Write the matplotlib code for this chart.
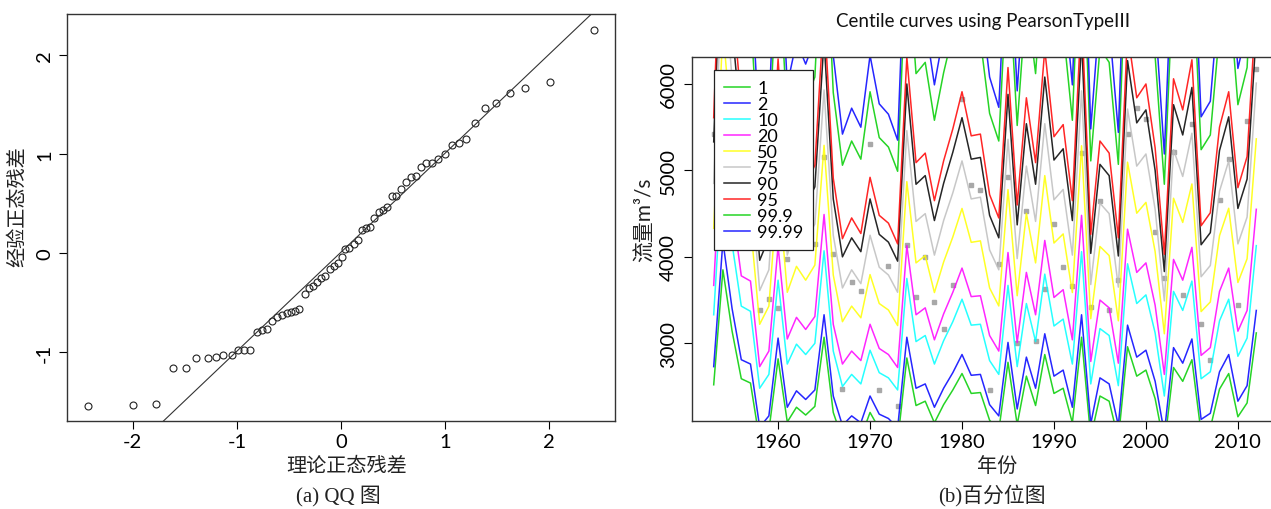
import numpy as np
import matplotlib
matplotlib.use("Agg")
import matplotlib.pyplot as plt

plt.rcParams['font.family'] = ['Lato', 'Noto Sans CJK SC', 'DejaVu Sans']
plt.rcParams['axes.unicode_minus'] = False
serif_cjk = ['Liberation Serif', 'Noto Sans CJK SC']

#%% QQ plot data
qq_x = [-2.43, -2.00, -1.78, -1.61, -1.49, -1.39, -1.28, -1.20, -1.13, -1.05,
        -0.99, -0.93, -0.87, -0.81, -0.76, -0.71, -0.66, -0.61, -0.57, -0.52,
        -0.48, -0.44, -0.40, -0.35, -0.31, -0.27, -0.23, -0.19, -0.15, -0.11,
        -0.07, -0.03, 0.01, 0.04, 0.08, 0.12, 0.16, 0.20, 0.24, 0.28,
        0.32, 0.36, 0.40, 0.44, 0.49, 0.53, 0.58, 0.62, 0.67, 0.72,
        0.77, 0.82, 0.87, 0.93, 1.00, 1.07, 1.13, 1.20, 1.29, 1.38,
        1.49, 1.62, 1.77, 2.01, 2.43]
qq_y = [-1.54, -1.535, -1.525, -1.16, -1.155, -1.06, -1.06, -1.045, -1.03, -1.025,
        -0.98, -0.975, -0.98, -0.795, -0.78, -0.77, -0.685, -0.645, -0.62, -0.605,
        -0.59, -0.58, -0.565, -0.41, -0.35, -0.33, -0.295, -0.255, -0.23, -0.155,
        -0.13, -0.095, -0.035, 0.04, 0.05, 0.09, 0.135, 0.235, 0.25, 0.265,
        0.355, 0.42, 0.44, 0.47, 0.58, 0.58, 0.645, 0.72, 0.765, 0.78,
        0.87, 0.91, 0.915, 0.95, 1.005, 1.095, 1.11, 1.15, 1.31, 1.47,
        1.515, 1.615, 1.665, 1.725, 2.25]
qq_intercept = 0.01
qq_slope = 1.0

#%% centile curves, years 1953-2012
years = np.arange(1953, 2013)
c1 = [2520, 3850, 3140, 2590, 2540, 1870, 1990, 2820, 2090, 2260,
      2170, 2270, 3070, 2200, 1890, 1990, 1910, 2200, 2010, 1970,
      1860, 2830, 2280, 2330, 2080, 2290, 2460, 2650, 2420, 2430,
      2110, 1990, 2780, 2060, 2620, 2280, 2870, 2420, 2480, 2080,
      3070, 1910, 2390, 2330, 1890, 2960, 2620, 2690, 2360, 1810,
      2720, 2560, 2810, 1960, 2020, 2470, 2650, 2150, 2310, 3120]
c2 = [2730, 4180, 3400, 2810, 2760, 2030, 2160, 3060, 2260, 2450,
      2350, 2460, 3330, 2390, 2050, 2160, 2080, 2390, 2180, 2130,
      2020, 3070, 2480, 2530, 2260, 2480, 2660, 2870, 2630, 2640,
      2290, 2160, 3010, 2240, 2840, 2480, 3110, 2620, 2690, 2260,
      3330, 2070, 2600, 2530, 2050, 3210, 2840, 2920, 2560, 1960,
      2950, 2770, 3050, 2120, 2190, 2670, 2870, 2330, 2510, 3380]
c10 = [3330, 5100, 4150, 3430, 3370, 2480, 2640, 3730, 2760, 2990,
       2870, 3000, 4070, 2910, 2500, 2640, 2530, 2920, 2660, 2600,
       2460, 3750, 3020, 3090, 2760, 3030, 3250, 3510, 3210, 3220,
       2800, 2640, 3670, 2730, 3460, 3020, 3800, 3200, 3280, 2760,
       4060, 2530, 3170, 3090, 2510, 3920, 3460, 3560, 3120, 2390,
       3600, 3380, 3720, 2590, 2670, 3260, 3510, 2850, 3060, 4130]
c20 = [3670, 5630, 4580, 3780, 3720, 2730, 2910, 4120, 3050, 3300,
       3160, 3310, 4490, 3220, 2760, 2910, 2800, 3220, 2940, 2870,
       2720, 4130, 3330, 3410, 3040, 3340, 3590, 3870, 3540, 3550,
       3090, 2910, 4050, 3010, 3820, 3330, 4190, 3530, 3620, 3040,
       4480, 2790, 3500, 3410, 2770, 4320, 3820, 3930, 3440, 2640,
       3970, 3730, 4110, 2860, 2950, 3600, 3870, 3140, 3380, 4550]
c50 = [4330, 6630, 5400, 4460, 4380, 3220, 3430, 4850, 3590, 3890,
       3730, 3905, 5290, 3790, 3250, 3430, 3295, 3795, 3460, 3385,
       3205, 4870, 3930, 4015, 3587, 3940, 4230, 4560, 4168, 4185,
       3640, 3432, 4778, 3550, 4503, 3930, 4940, 4160, 4265, 3587,
       5285, 3285, 4120, 4015, 3260, 5095, 4505, 4630, 4060, 3110,
       4678, 4398, 4843, 3367, 3478, 4245, 4562, 3703, 3978, 5365]
c75 = [4850, 7430, 6050, 5000, 4910, 3610, 3850, 5440, 4020, 4360,
       4180, 4380, 5930, 4250, 3640, 3850, 3690, 4250, 3880, 3790,
       3590, 5460, 4410, 4500, 4020, 4420, 4740, 5110, 4670, 4690,
       4080, 3850, 5360, 3980, 5050, 4410, 5540, 4660, 4780, 4020,
       5920, 3680, 4620, 4500, 3650, 5710, 5050, 5190, 4550, 3490,
       5240, 4930, 5430, 3770, 3900, 4760, 5110, 4150, 4460, 6010]
c90 = [5330, 8160, 6650, 5490, 5390, 3960, 4220, 5970, 4420, 4790,
       4590, 4810, 6510, 4670, 4000, 4220, 4060, 4670, 4260, 4170,
       3950, 6000, 4840, 4940, 4420, 4850, 5210, 5610, 5130, 5150,
       4480, 4220, 5880, 4370, 5540, 4840, 6080, 5120, 5250, 4420,
       6510, 4040, 5070, 4940, 4010, 6270, 5550, 5700, 5000, 3830,
       5760, 5410, 5960, 4140, 4280, 5230, 5620, 4560, 4900, 6600]
c95 = [5610, 8590, 7000, 5780, 5680, 4170, 4450, 6290, 4650, 5040,
       4830, 5060, 6860, 4910, 4210, 4450, 4270, 4920, 4480, 4390,
       4150, 6310, 5090, 5200, 4650, 5110, 5480, 5910, 5400, 5420,
       4720, 4450, 6190, 4600, 5840, 5090, 6400, 5390, 5530, 4650,
       6850, 4260, 5340, 5200, 4220, 6600, 5840, 6000, 5260, 4030,
       6060, 5700, 6280, 4360, 4510, 5500, 5910, 4800, 5160, 6950]
c999 = [6740, 10320, 8400, 6940, 6820, 5010, 5340, 7550, 5590, 6050,
        5800, 6080, 8230, 5900, 5060, 5340, 5130, 5910, 5380, 5270,
        4990, 7580, 6120, 6250, 5580, 6130, 6580, 7100, 6490, 6510,
        5660, 5340, 7430, 5520, 7010, 6120, 7690, 6470, 6640, 5580,
        8220, 5110, 6410, 6250, 5070, 7930, 7010, 7200, 6320, 4840,
        7280, 6840, 7540, 5240, 5410, 6610, 7100, 5760, 6190, 8350]
c9999 = [7230, 11070, 9010, 7440, 7310, 5370, 5720, 8090, 5990, 6490,
         6230, 6520, 8830, 6330, 5420, 5720, 5500, 6330, 5770, 5650,
         5350, 8130, 6560, 6700, 5990, 6580, 7060, 7610, 6960, 6980,
         6080, 5730, 7970, 5920, 7520, 6560, 8240, 6940, 7120, 5990,
         8820, 5480, 6880, 6700, 5440, 8500, 7520, 7730, 6780, 5190,
         7810, 7340, 8080, 5620, 5800, 7080, 7610, 6180, 6640, 8950]
# observed flows (grey squares); a few sit behind the legend
obs = [5420, 5900, 5200, 4700, 4600, 3385, 3512, 3410, 3975, 4400,
       4110, 4148, 5150, 4030, 2475, 3705, 3609, 5310, 2465, 3893,
       2276, 4134, 3538, 4003, 3480, 3162, 3673, 5822, 4830, 4770,
       2462, 3912, 4920, 3005, 4534, 3026, 3628, 4376, 3888, 3659,
       5198, 3423, 4650, 3386, 3732, 5421, 5718, 5590, 4288, 3755,
       5208, 3555, 5537, 3222, 2805, 4652, 5132, 3444, 5566, 6174]

cent_labels = ['1', '2', '10', '20', '50', '75', '90', '95', '99.9', '99.99']
cent_values = [c1, c2, c10, c20, c50, c75, c90, c95, c999, c9999]
# R palette 3..12
cent_colors = ['#00CD00', '#0000FF', '#00FFFF', '#FF00FF', '#FFFF00',
               '#BEBEBE', '#000000', '#FF0000', '#00CD00', '#0000FF']

W, H = 1271, 510
fig = plt.figure(figsize=(W / 100, H / 100), dpi=100)

#%% left: QQ plot
ax1 = fig.add_axes([67 / W, 88 / H, 548 / W, 407 / H])
ax1.plot(qq_x, qq_y, 'o', mfc='none', mec='#222222', ms=5, mew=0.8)
ax1.axline((0, qq_intercept), slope=qq_slope, color='#333333', lw=0.8)
ax1.set_xlim(-2.63, 2.63)
ax1.set_ylim(-1.694, 2.414)
ax1.set_xticks([-2, -1, 0, 1, 2])
ax1.set_yticks([-1, 0, 1, 2])
ax1.tick_params(direction='out', length=6, width=0.8, labelsize=14.5, pad=3)
ax1.tick_params(axis='y', labelrotation=90, pad=4)
for lab in ax1.get_yticklabels():
    lab.set_va('center')
for sp in ax1.spines.values():
    sp.set_linewidth(1.0)
    sp.set_color('#333333')
ax1.text(0.511, -0.108, '理论正态残差', transform=ax1.transAxes, ha='center',
         va='center', fontsize=14.5, family='Noto Sans CJK SC', color='#222222')
ax1.text(-0.089, 0.528, '经验正态残差', transform=ax1.transAxes, ha='center',
         va='center', rotation=90, fontsize=14.5, family='Noto Sans CJK SC',
         color='#222222')

#%% right: centile curves
ax2 = fig.add_axes([692 / W, 88 / H, 586 / W, 364 / H])
ax2.plot(years, obs, 's', color='#a8a8a8', ms=2.4, zorder=1)
for lab, vals, col in zip(cent_labels, cent_values, cent_colors):
    ax2.plot(years, vals, color=col, lw=1.1, alpha=0.85, label=lab, zorder=2)
ax2.set_xlim(1950.64, 2014.36)
ax2.set_ylim(2101, 6312)
ax2.set_xticks([1960, 1970, 1980, 1990, 2000, 2010])
ax2.set_yticks([3000, 4000, 5000, 6000])
ax2.tick_params(direction='out', length=6, width=0.8, labelsize=14.5, pad=3)
ax2.tick_params(axis='y', labelrotation=90, pad=5)
for lab in ax2.get_yticklabels():
    lab.set_va('center')
for sp in ax2.spines.values():
    sp.set_linewidth(1.0)
    sp.set_color('#333333')
leg = ax2.legend(loc='upper left', bbox_to_anchor=(0.0375, 0.964), borderaxespad=0,
                 fontsize=13, frameon=True, fancybox=False, framealpha=1,
                 edgecolor='#222222', handlelength=1.45, handletextpad=0.4,
                 labelspacing=0.0, borderpad=0.55)
leg.get_frame().set_linewidth(0.9)
ax2.text(0.52, -0.121, '年份', transform=ax2.transAxes, ha='center', va='center',
         fontsize=14.5, family='Noto Sans CJK SC', color='#222222')
ax2.text(-0.080, 0.555, '流量m³/s', transform=ax2.transAxes, ha='center',
         va='center', rotation=90, fontsize=15, color='#222222')

fig.text(983 / W, 1 - 22 / H, 'Centile curves using PearsonTypeIII', ha='center',
         va='center', fontsize=13.5, color='#111111')
fig.text(338 / W, 1 - 496 / H, '(a) QQ 图', ha='center', va='center',
         fontsize=15, family=serif_cjk, color='#222222')
fig.text(992 / W, 1 - 496 / H, '(b)百分位图', ha='center', va='center',
         fontsize=15, family=serif_cjk, color='#222222')

fig.savefig('out.png', dpi=100)
